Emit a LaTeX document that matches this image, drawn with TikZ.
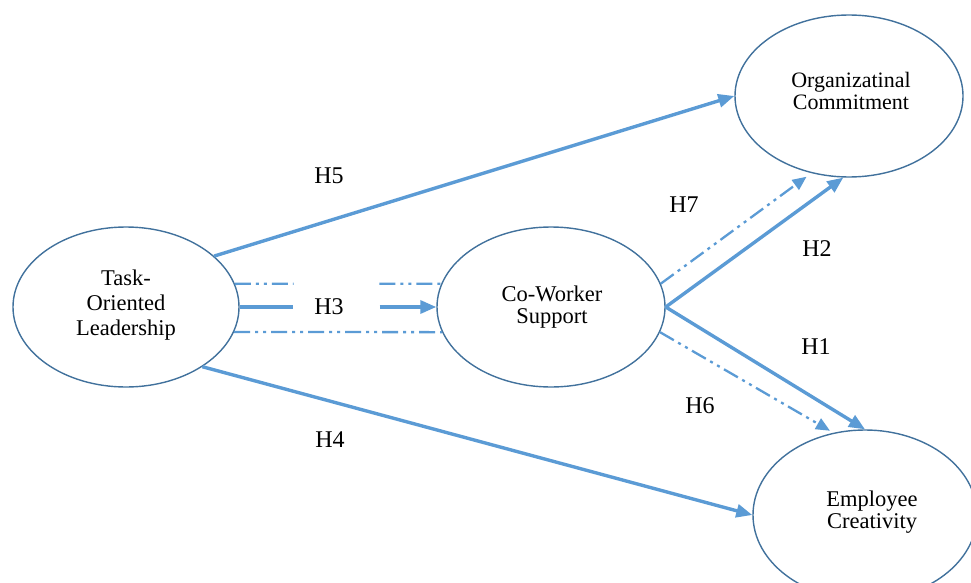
\documentclass[tikz,border=0pt]{standalone}
\usepackage{fontspec}
\setmainfont{Liberation Serif}
\usetikzlibrary{arrows.meta,calc,shapes.geometric}
\definecolor{arrowblue}{HTML}{5B9BD5}
\definecolor{edgeblue}{HTML}{41719C}
\begin{document}
\begin{tikzpicture}[x=1pt,y=-1pt,
  construct/.style={draw=edgeblue, line width=1.4pt, ellipse, inner sep=0pt},
  nametext/.style={align=center, inner sep=0pt},
  hyp/.style={inner sep=0pt, font=\fontsize{24}{28}\selectfont},
  solidpath/.style={draw=arrowblue, line width=3.4pt},
  dotpath/.style={draw=arrowblue, line width=2.3pt, dash pattern=on 16pt off 5pt on 3pt off 5pt on 3pt off 5pt},
  bigtip/.style={-{Triangle[length=16pt,width=13pt]}},
  smalltip/.style={-{Triangle[length=14pt,width=12pt]}}
]
\useasboundingbox (0,0) rectangle (971,583);
% constructs
\node[construct, minimum width=226pt, minimum height=160pt] (task) at (126,307) {};
\node[construct, minimum width=228pt, minimum height=160pt] (cow) at (551,307) {};
\node[construct, minimum width=228pt, minimum height=162pt] (org) at (849,96) {};
\node[construct, minimum width=224pt, minimum height=170pt] (ec) at (865,515) {};
% construct texts
\node[nametext, font=\fontsize{22.5}{25}\selectfont] (tasktxt) at (126,305) {Task-\\Oriented\\Leadership};
\node[nametext, font=\fontsize{22.5}{22}\selectfont] (cowtxt) at (552,307) {Co-Worker\\Support};
\node[nametext, font=\fontsize{22}{22}\selectfont] (orgtxt) at (851,91) {Organizatinal\\Commitment};
\node[nametext, font=\fontsize{22.5}{22}\selectfont] (ectxt) at (872,512) {Employee\\Creativity};
% H5 and H4
\draw[solidpath, bigtip] (task.30) -- (org.180);
\draw[solidpath, bigtip] (task.-38) -- (ec.180);
% H3 bundle
\coordinate (h3a) at ($(task.east)!0.273!(cow.west)$);
\coordinate (h3b) at ($(task.east)!0.712!(cow.west)$);
\draw[solidpath] (task.east) -- (h3a);
\draw[solidpath, bigtip] (h3b) -- (cow.west);
\coordinate (h3c) at ($(task.12)!0.284!(cow.168)$);
\coordinate (h3d) at ($(task.12)!0.70!(cow.168)$);
\draw[dotpath] (task.12) -- (h3c);
\draw[dotpath] (h3d) -- (cow.168);
\draw[dotpath] (task.-13) -- (cow.-167);
% from co-worker support
\draw[dotpath, smalltip, shorten >=6pt] (cow.12) -- (org.-116);
\draw[solidpath, bigtip] (cow.east) -- (org.-94);
\draw[solidpath, bigtip] (cow.east) -- (ec.north);
\draw[dotpath, smalltip, shorten >=4pt] (cow.-13) -- (ec.111);
% hypothesis labels
\node[hyp] (h5) at (329,176) {H5};
\node[hyp] (h3) at (329,307) {H3};
\node[hyp] (h4) at (330,440) {H4};
\node[hyp] (h7) at (684,205) {H7};
\node[hyp] (h2) at (817,249) {H2};
\node[hyp] (h1) at (816,347) {H1};
\node[hyp] (h6) at (700,406) {H6};
\end{tikzpicture}
\end{document}
